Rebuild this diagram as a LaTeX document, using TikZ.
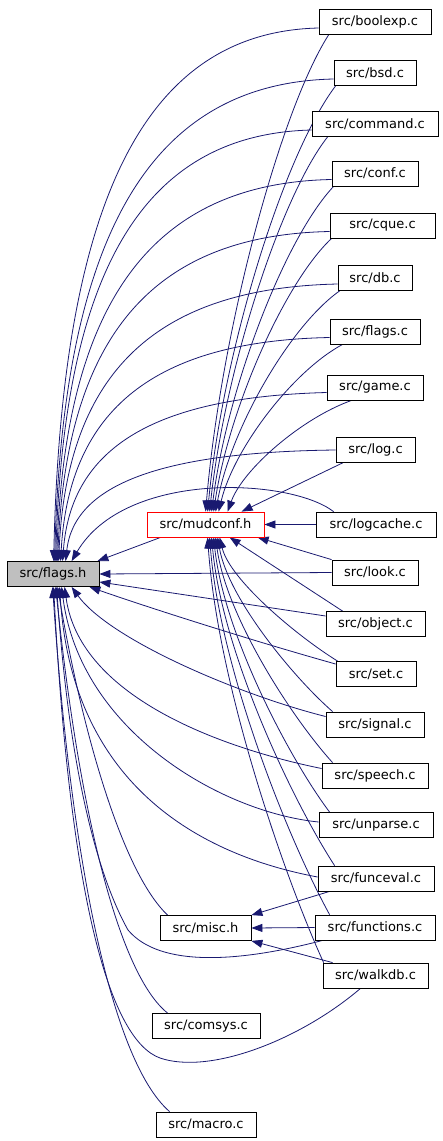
\documentclass[tikz,border=0pt]{standalone}
\usepackage{fontspec}
\setmainfont{DejaVu Sans}
\usetikzlibrary{arrows.meta,calc,backgrounds}
\definecolor{mblue}{RGB}{25,25,112}
\definecolor{fgray}{RGB}{191,191,191}
\begin{document}
\begin{tikzpicture}[x=1pt,y=-1pt,
  box/.style={draw=black, line width=0.8pt, fill=white, minimum height=25pt, inner sep=0pt, font=\fontsize{13}{15}\selectfont},
  dep/.style={draw=mblue, line width=0.8pt, -{Triangle[length=11pt,width=8pt]}}]
\useasboundingbox (0,0) rectangle (443,1141);
% nodes
\node[box, fill=fgray, minimum width=92pt] (flags) at (53,574) {src/flags.h};
\node[box, draw=red, minimum width=117pt] (mudconf) at (205.5,524.5) {src/mudconf.h};
\node[box, minimum width=112pt] (boolexp) at (375,22) {src/boolexp.c};
\node[box, minimum width=82pt] (bsd) at (375,73) {src/bsd.c};
\node[box, minimum width=126pt] (command) at (375,124) {src/command.c};
\node[box, minimum width=86pt] (conf) at (375,173.5) {src/conf.c};
\node[box, minimum width=105pt] (cque) at (382.5,225.5) {src/cque.c};
\node[box, minimum width=74pt] (db) at (375,278) {src/db.c};
\node[box, minimum width=90pt] (flagsc) at (375,331.5) {src/flags.c};
\node[box, minimum width=96pt] (game) at (375,387.5) {src/game.c};
\node[box, minimum width=79pt] (log) at (375.5,450) {src/log.c};
\node[box, minimum width=120pt] (logcache) at (376,524.5) {src/logcache.c};
\node[box, minimum width=86pt] (look) at (375,572.5) {src/look.c};
\node[box, minimum width=99pt] (object) at (375.5,624) {src/object.c};
\node[box, minimum width=80pt] (set) at (376,674) {src/set.c};
\node[box, minimum width=98pt] (signal) at (375,724.5) {src/signal.c};
\node[box, minimum width=106pt] (speech) at (375,775.5) {src/speech.c};
\node[box, minimum width=114pt] (unparse) at (376,825) {src/unparse.c};
\node[box, minimum width=116pt] (funceval) at (376,878.5) {src/funceval.c};
\node[box, minimum width=120pt] (functions) at (375,927.5) {src/functions.c};
\node[box, minimum width=105pt] (walkdb) at (375.5,975.5) {src/walkdb.c};
\node[box, minimum width=91pt] (misc) at (205.5,928) {src/misc.h};
\node[box, minimum width=108pt] (comsys) at (206,1026) {src/comsys.c};
\node[box, minimum width=100pt] (macro) at (206,1124.5) {src/macro.c};
\begin{pgfonlayer}{background}
% top group -> flags.h
\draw[dep] ([yshift=-6pt]boolexp.west) .. controls (145,32) and (62,200) .. ([xshift=47pt]flags.north west);
\draw[dep] ([yshift=-6pt]bsd.west) .. controls (150,83) and (63,235) .. ([xshift=48pt]flags.north west);
\draw[dep] ([yshift=-6pt]command.west) .. controls (145,134) and (64,268) .. ([xshift=49pt]flags.north west);
\draw[dep] ([yshift=-6pt]conf.west) .. controls (152,183) and (65,302) .. ([xshift=50pt]flags.north west);
\draw[dep] ([yshift=-6pt]cque.west) .. controls (152,235) and (66,337) .. ([xshift=51pt]flags.north west);
\draw[dep] ([yshift=-6pt]db.west) .. controls (155,288) and (67,373) .. ([xshift=52pt]flags.north west);
\draw[dep] ([yshift=-6pt]flagsc.west) .. controls (155,341) and (69,409) .. ([xshift=54pt]flags.north west);
\draw[dep] ([yshift=-5pt]game.west) .. controls (155,397) and (71,447) .. ([xshift=56pt]flags.north west);
\draw[dep] (log.west) .. controls (160,452) and (74,485) .. ([xshift=59pt]flags.north west);
\draw[dep] ([xshift=18pt]logcache.north west) .. controls (290,478) and (125,470) .. ([xshift=65pt]flags.north west);
% top group -> mudconf.h
\draw[dep] ([xshift=10pt]boolexp.south west) .. controls (280,111) and (221,331) .. ([xshift=59pt]mudconf.north west);
\draw[dep] ([xshift=2pt]bsd.south west) .. controls (284,154) and (223,350) .. ([xshift=61pt]mudconf.north west);
\draw[dep] ([xshift=16pt]command.south west) .. controls (281,196) and (225,369) .. ([xshift=63pt]mudconf.north west);
\draw[dep] ([xshift=2pt]conf.south west) .. controls (285,238) and (227,388) .. ([xshift=65pt]mudconf.north west);
\draw[dep] ([xshift=2pt]cque.south west) .. controls (285,282) and (229,408) .. ([xshift=67pt]mudconf.north west);
\draw[dep] ([xshift=2pt]db.south west) .. controls (290,326) and (231,428) .. ([xshift=69pt]mudconf.north west);
\draw[dep] ([xshift=13pt]flagsc.south west) .. controls (293,371) and (234,448) .. ([xshift=72pt]mudconf.north west);
\draw[dep] ([xshift=25pt]game.south west) .. controls (302,418) and (243,469) .. ([xshift=81pt]mudconf.north west);
\draw[dep] ([xshift=7pt]log.south west) -- ([xshift=95pt]mudconf.north west);
\draw[dep] (logcache.west) -- (mudconf.east);
% mudconf -> flags
\draw[dep] ([xshift=14pt]mudconf.south west) -- ([xshift=-2pt]flags.north east);
% bottom group -> mudconf.h
\draw[dep] (look.north west) -- ([xshift=111pt]mudconf.south west);
\draw[dep] ([xshift=17pt]object.north west) -- ([xshift=83pt]mudconf.south west);
\draw[dep] ([xshift=2pt]set.north west) .. controls (297,636) and (230,580) .. ([xshift=73pt]mudconf.south west);
\draw[dep] ([xshift=7pt]signal.north west) .. controls (293,677) and (228,598) .. ([xshift=71pt]mudconf.south west);
\draw[dep] ([xshift=11pt]speech.north west) .. controls (292,718) and (226,616) .. ([xshift=69pt]mudconf.south west);
\draw[dep] ([xshift=11pt]unparse.north west) .. controls (289,758) and (224,634) .. ([xshift=67pt]mudconf.south west);
\draw[dep] ([xshift=17pt]funceval.north west) .. controls (292,800) and (222,652) .. ([xshift=65pt]mudconf.south west);
\draw[dep] ([xshift=15pt]functions.north west) .. controls (288,839) and (220,669) .. ([xshift=63pt]mudconf.south west);
\draw[dep] ([xshift=1pt]walkdb.north west) .. controls (285,878) and (218,686) .. ([xshift=61pt]mudconf.south west);
% bottom group -> flags.h
\draw[dep] (look.west) -- (flags.east);
\draw[dep] ([yshift=8pt]object.west) -- ([yshift=-8pt]flags.east);
\draw[dep] ([yshift=10pt]set.west) .. controls (250,640) and (150,608) .. ([xshift=-10pt]flags.south east);
\draw[dep] ([yshift=8pt]signal.west) .. controls (240,695) and (110,640) .. ([xshift=65pt]flags.south west);
\draw[dep] ([yshift=7pt]speech.west) .. controls (230,750) and (80,700) .. ([xshift=58pt]flags.south west);
\draw[dep] ([yshift=3pt]unparse.west) .. controls (220,812) and (80,730) .. ([xshift=55pt]flags.south west);
\draw[dep] ([yshift=1.5pt]funceval.west) .. controls (200,855) and (72,785) .. ([xshift=53pt]flags.south west);
\draw[dep] ([xshift=8pt]functions.south west) .. controls (240,962) and (160,968) .. (128,930) .. controls (100,880) and (70,780) .. ([xshift=50pt]flags.south west);
\draw[dep] ([xshift=-15pt]walkdb.south) .. controls (300,1040) and (210,1075) .. (160,1058) .. controls (110,1040) and (70,900) .. ([xshift=47pt]flags.south west);
\draw[dep] ([xshift=8pt]misc.north west) .. controls (120,870) and (80,720) .. ([xshift=51pt]flags.south west);
\draw[dep] ([xshift=16pt]comsys.north west) .. controls (120,975) and (80,820) .. ([xshift=49pt]flags.south west);
\draw[dep] ([xshift=14pt]macro.north west) .. controls (110,1060) and (70,850) .. ([xshift=46pt]flags.south west);
% -> misc.h
\draw[dep] ([xshift=12pt]funceval.south west) -- (misc.north east);
\draw[dep] (functions.west) -- (misc.east);
\draw[dep] ([xshift=10pt]walkdb.north west) -- (misc.south east);
\end{pgfonlayer}
\end{tikzpicture}
\end{document}
